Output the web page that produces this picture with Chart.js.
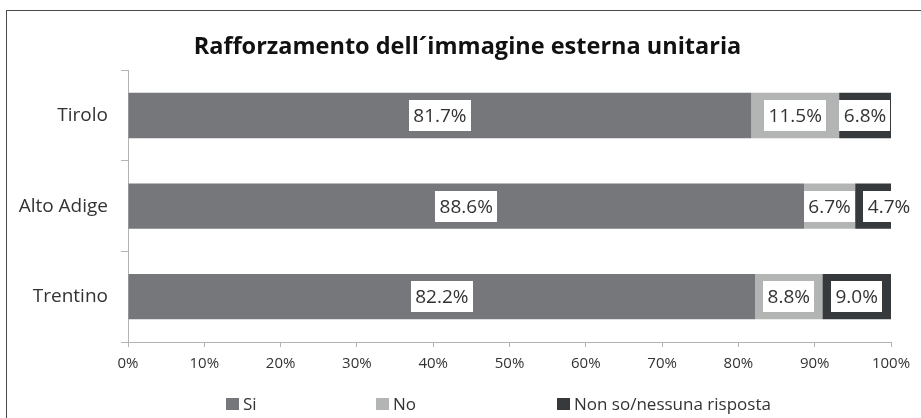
<!DOCTYPE html>
<html lang="it">
<head>
<meta charset="utf-8">
<title>Rafforzamento dell´immagine esterna unitaria</title>
<script src="https://cdn.jsdelivr.net/npm/chart.js@4.4.1/dist/chart.umd.min.js"></script>
<style>
  html, body { margin: 0; padding: 0; background: #fff; }
  #wrap { position: relative; width: 921px; height: 418px; }
</style>
</head>
<body>
<div id="wrap"><canvas id="immagine-esterna" width="921" height="418"></canvas></div>
<script>
  // regioni (asse delle categorie, dall'alto verso il basso)
  const regioni = ['Tirolo', 'Alto Adige', 'Trentino'];

  // quote percentuali per risposta
  const si = [81.7, 88.6, 82.2];
  const no = [11.5, 6.7, 8.8];
  const nonSo = [6.8, 4.7, 9.0];

  const nomiSerie = ['Si', 'No', 'Non so/nessuna risposta'];
  const tickAsseX = [0, 10, 20, 30, 40, 50, 60, 70, 80, 90, 100];

  const colori = {
    si: '#75777a',
    no: '#b3b5b5',
    nonSo: '#363a3d',
    asse: '#b3b3b3',
    testo: '#333333',
    cornice: '#4a4a4a'
  };

  const fontTesto = '"Open Sans", "DejaVu Sans", sans-serif';

  /* cornice esterna del grafico; titolo spostato un po' a destra */
  const cornice = {
    id: 'cornice',
    afterLayout: function (chart) {
      const t = chart.titleBlock;
      if (t) { t.left += 16; t.right += 16; }
    },
    beforeDraw: function (chart) {
      const ctx = chart.ctx;
      ctx.save();
      ctx.strokeStyle = colori.cornice;
      ctx.lineWidth = 1;
      ctx.strokeRect(6.5, 10.5, 1200, 1200);
      ctx.restore();
    }
  };

  /* etichette dei valori in riquadri bianchi, centrate sul segmento */
  const etichette = {
    id: 'etichette',
    afterDatasetsDraw: function (chart) {
      const ctx = chart.ctx;
      ctx.save();
      ctx.font = '19px ' + fontTesto;
      ctx.textAlign = 'center';
      ctx.textBaseline = 'middle';
      const ultimoBordo = {};
      chart.data.datasets.forEach(function (ds, di) {
        const meta = chart.getDatasetMeta(di);
        meta.data.forEach(function (bar, i) {
          const v = ds.data[i];
          const testo = v.toFixed(1) + '%';
          const w = ctx.measureText(testo).width + 9;
          const h = 31;
          let cx = (bar.x + bar.base) / 2;
          // se il riquadro tocca quello precedente lo sposto a destra
          const prec = ultimoBordo[i];
          if (prec !== undefined && cx - w / 2 < prec + 8) cx = prec + 8 + w / 2;
          ultimoBordo[i] = cx + w / 2;
          ctx.fillStyle = '#ffffff';
          ctx.fillRect(Math.round(cx - w / 2), Math.round(bar.y - h / 2), Math.round(w), h);
          ctx.fillStyle = colori.testo;
          ctx.fillText(testo, cx, bar.y + 1);
        });
      });
      ctx.restore();
    }
  };

  /* legenda in basso con spaziatura libera tra le voci */
  const legenda = {
    id: 'legenda',
    afterDraw: function (chart, args, opts) {
      const ctx = chart.ctx;
      const y = opts.y;
      ctx.save();
      ctx.font = '17px ' + fontTesto;
      ctx.textBaseline = 'middle';
      ctx.textAlign = 'left';
      chart.data.datasets.forEach(function (ds, di) {
        const x = opts.x[di];
        ctx.fillStyle = ds.backgroundColor;
        ctx.fillRect(x, y - 6, 13, 12);
        ctx.fillStyle = colori.testo;
        ctx.fillText(ds.label, x + 17, y + 1);
      });
      ctx.restore();
    }
  };

  new Chart(document.getElementById('immagine-esterna'), {
    type: 'bar',
    data: {
      labels: regioni,
      datasets: [
        { label: nomiSerie[0], data: si, backgroundColor: colori.si },
        { label: nomiSerie[1], data: no, backgroundColor: colori.no },
        { label: nomiSerie[2], data: nonSo, backgroundColor: colori.nonSo }
      ]
    },
    options: {
      indexAxis: 'y',
      responsive: false,
      animation: false,
      layout: { padding: { left: 12, right: 30, top: 0, bottom: 37 } },
      datasets: {
        bar: { categoryPercentage: 1.0, barPercentage: 0.5 }
      },
      plugins: {
        legend: { display: false },
        tooltip: { enabled: false },
        title: {
          display: true,
          text: 'Rafforzamento dell´immagine esterna unitaria',
          color: '#111111',
          font: { size: 23.5, weight: 'bold', family: fontTesto },
          padding: { top: 33, bottom: 9 }
        },
        legenda: { x: [226, 376, 557], y: 404 }
      },
      scales: {
        x: {
          stacked: true,
          min: 0,
          max: 100,
          afterBuildTicks: function (scale) {
            scale.ticks = tickAsseX.map(function (v) { return { value: v }; });
          },
          grid: {
            drawOnChartArea: false,
            drawTicks: true,
            tickLength: 5,
            color: colori.asse
          },
          border: { display: true, color: colori.asse },
          ticks: {
            color: colori.testo,
            padding: 8,
            maxRotation: 0,
            font: { size: 15, family: fontTesto },
            callback: function (v) { return v + '%'; }
          }
        },
        y: {
          stacked: true,
          afterFit: function (scale) { scale.width = 116; },
          grid: {
            offset: true,
            drawOnChartArea: false,
            drawTicks: true,
            tickLength: 7,
            color: colori.asse
          },
          border: { display: true, color: colori.asse },
          ticks: {
            color: colori.testo,
            padding: 13,
            font: { size: 19, family: fontTesto }
          }
        }
      }
    },
    plugins: [cornice, etichette, legenda]
  });
</script>
</body>
</html>
